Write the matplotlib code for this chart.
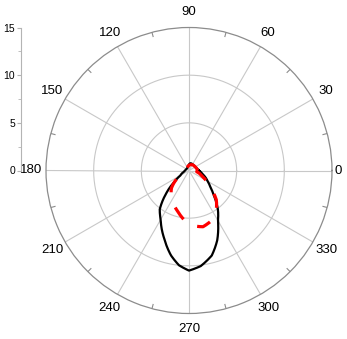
import numpy as np
import matplotlib.pyplot as plt

plt.rcParams['font.family'] = ['Liberation Sans', 'DejaVu Sans']

# black pattern (angle in degrees, radius)
black_deg = [0, 15, 30, 45, 60, 75, 82, 90, 105, 120, 135, 150, 165, 180,
             195, 210, 217, 225, 233, 240, 250, 258, 264, 270, 277, 285,
             292, 300, 306, 315, 322, 330, 345, 360]
black_r = [1.04, 0.85, 0.76, 0.73, 0.76, 0.78, 0.76, 0.63, 0.38, 0.33, 0.30,
           0.31, 0.34, 0.41, 0.57, 1.05, 1.8, 3.37, 5.1, 5.94, 7.6, 9.1,
           10.0, 10.5, 10.1, 9.23, 7.9, 6.07, 5.18, 3.66, 2.85, 2.26, 1.47,
           1.04]

# red dashed pattern
red_deg = [0, 30, 60, 90, 120, 136, 165, 180, 195, 210, 217, 225, 238, 255,
           271, 284, 293, 302, 313, 322, 335, 351, 360]
red_r = [0.9, 0.75, 0.7, 0.55, 0.35, 0.33, 0.36, 0.45, 0.6, 1.05, 1.8, 2.6,
         3.44, 4.47, 5.72, 6.08, 5.8, 5.3, 4.2, 2.78, 1.6, 0.82, 0.9]

r_ticks = [0, 5, 10, 15]
theta_labels = [0, 30, 60, 90, 120, 150, 180, 210, 240, 270, 300, 330]

W, H = 347, 339
fig = plt.figure(figsize=(W / 100, H / 100), dpi=100)

cx, cy, R = 189, 170.5, 143
ax = fig.add_axes([(cx - R) / W, (H - cy - R) / H, 2 * R / W, 2 * R / H],
                  projection='polar')
ax.set_ylim(0, 15)
ax.set_yticks([])
ax.set_xticks([])
ax.grid(False)
ax.spines['polar'].set_color('#8c8c8c')
ax.spines['polar'].set_linewidth(0.9)

# grid
th = np.linspace(0, 2 * np.pi, 361)
for rr in [5, 10]:
    ax.plot(th, np.full_like(th, rr), color='#c8c8c8', lw=0.8, zorder=1)
for a in theta_labels:
    ax.plot([np.radians(a)] * 2, [0, 15], color='#c8c8c8', lw=0.8, zorder=1)
for a in range(15, 360, 30):
    ax.plot([np.radians(a)] * 2, [14.55, 15], color='#8c8c8c', lw=0.8, zorder=1)

ln_b, = ax.plot(np.radians(black_deg), black_r, color='black', lw=1.6,
                zorder=3)
ln_r, = ax.plot(np.radians(red_deg), red_r, color='red', lw=2.3,
                dashes=(4.5, 5), zorder=4)
# let the polar transform draw curved segments between the points
for ln in (ln_b, ln_r):
    ln.get_path()._interpolation_steps = 20

for a in theta_labels:
    d = 15.6 if a == 0 else 16.6
    ax.text(np.radians(a), d, str(a), ha='center', va='center', fontsize=9.5,
            clip_on=False)

# radial scale on the left
rax = fig.add_axes([20.7 / W, (H - cy) / H, 0.001, R / H])
rax.set_ylim(0, 15)
rax.set_xticks([])
rax.set_yticks(r_ticks)
rax.set_yticks([2.5, 7.5, 12.5], minor=True)
for s in ['top', 'right', 'bottom']:
    rax.spines[s].set_visible(False)
rax.spines['left'].set_color('#b4b4b4')
rax.tick_params(axis='y', which='major', length=3, color='#b4b4b4',
                labelsize=7.5, pad=1)
rax.tick_params(axis='y', which='minor', length=2.5, color='#b4b4b4')
rax.patch.set_visible(False)

fig.savefig('out.png', dpi=100)
